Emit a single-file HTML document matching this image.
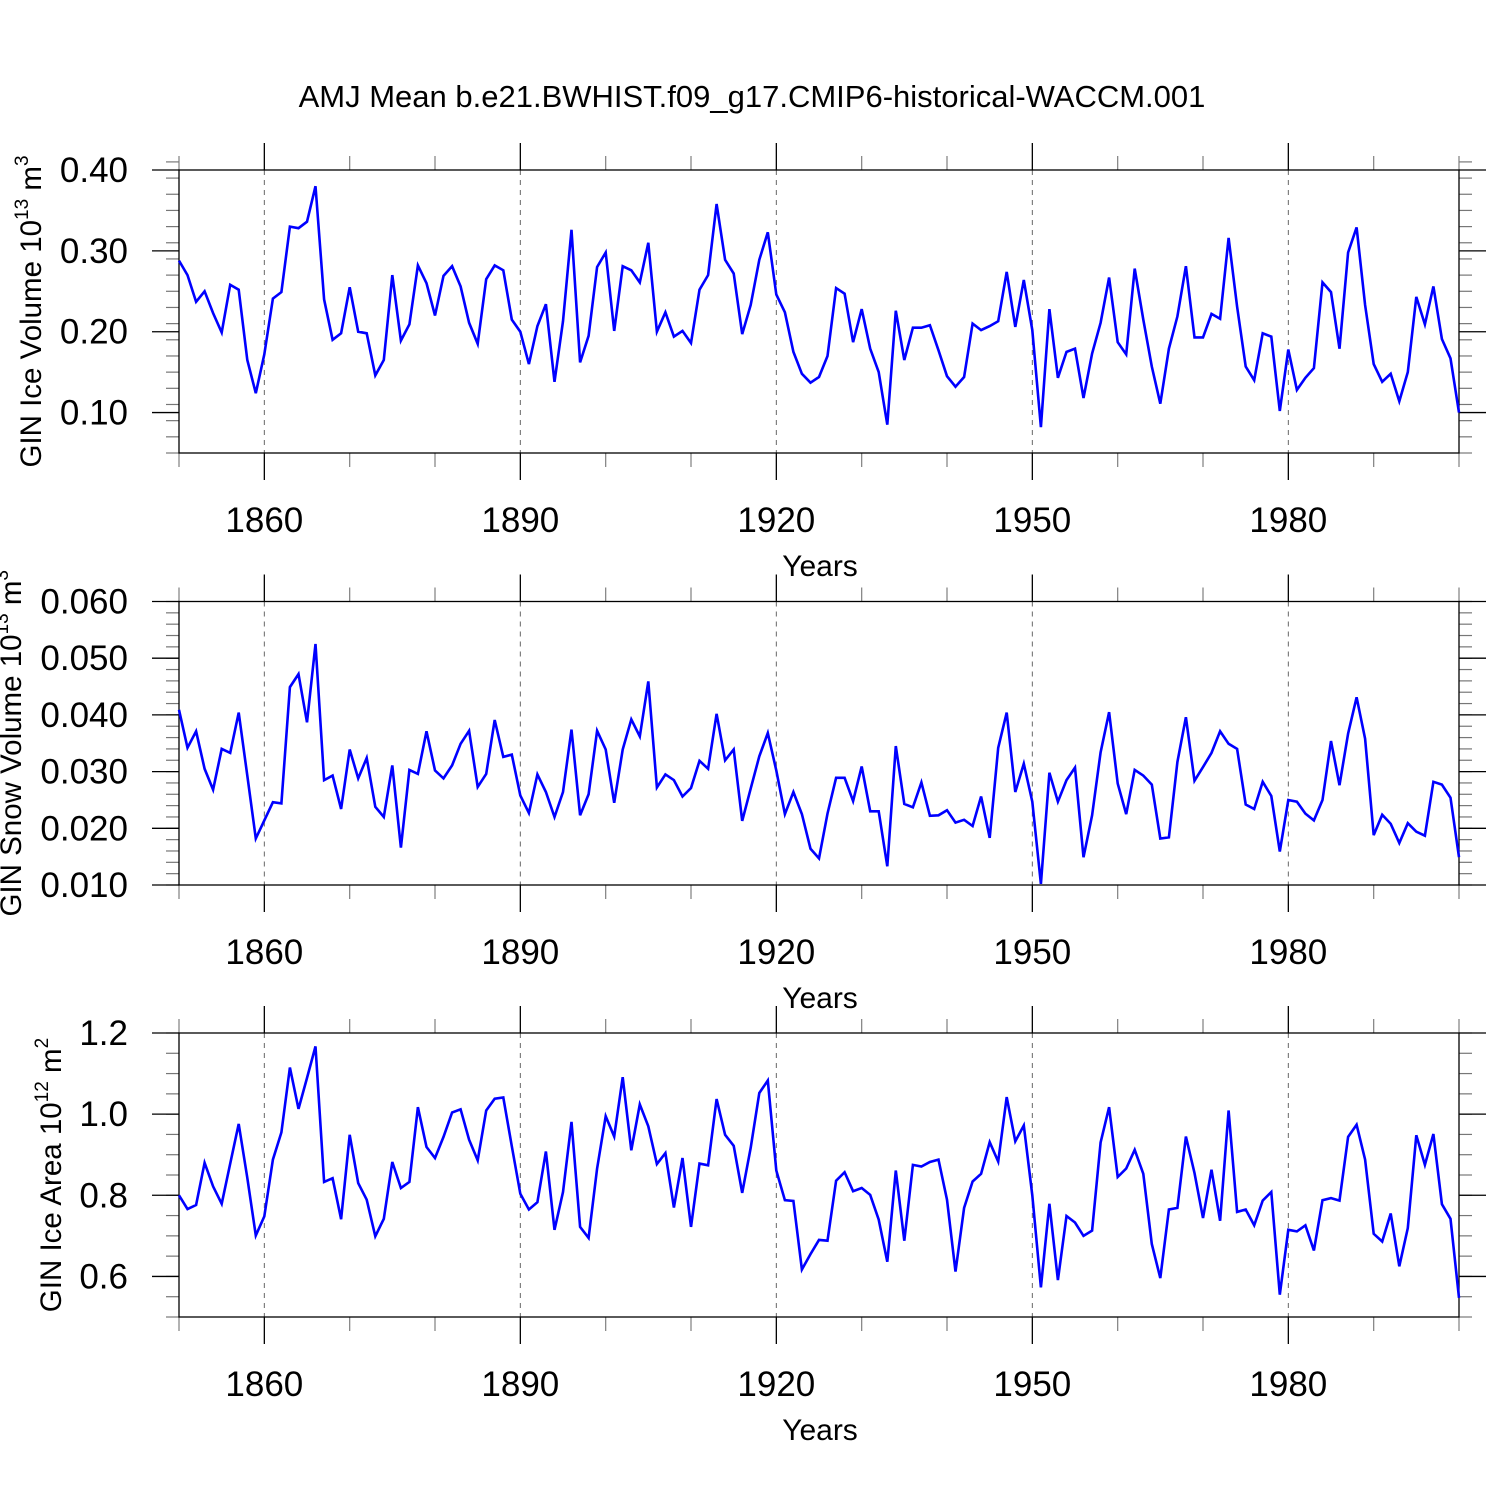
<!DOCTYPE html>
<html><head><meta charset="utf-8"><style>
html,body{margin:0;padding:0;background:#fff;width:1500px;height:1500px;overflow:hidden}
svg{display:block;font-family:"Liberation Sans",sans-serif}
</style></head><body>
<svg id="chart" width="1500" height="1500" viewBox="0 0 1500 1500" xmlns="http://www.w3.org/2000/svg">
<text x="752" y="107" font-size="31" text-anchor="middle">AMJ Mean b.e21.BWHIST.f09_g17.CMIP6-historical-WACCM.001</text>
</svg>
<script>
const startYear = 1850;
const iceVolume = [0.288,0.270,0.237,0.250,0.223,0.199,0.258,0.252,0.165,0.124,0.172,0.241,0.249,0.330,0.328,0.336,0.380,0.240,0.190,0.198,0.255,0.200,0.198,0.146,0.165,0.270,0.189,0.209,0.282,0.260,0.220,0.269,0.281,0.256,0.211,0.185,0.265,0.282,0.276,0.215,0.200,0.160,0.207,0.234,0.138,0.213,0.326,0.162,0.195,0.280,0.298,
0.201,0.281,0.276,0.261,0.310,0.200,0.224,0.194,0.201,0.186,0.252,0.270,0.358,0.289,0.272,0.197,0.233,0.289,0.323,0.246,0.224,0.175,0.148,0.137,0.144,0.170,0.254,0.247,0.187,0.228,0.179,0.150,0.085,0.226,0.165,0.205,0.205,0.208,0.177,0.145,0.132,0.144,0.210,0.202,0.207,0.213,0.274,0.206,0.264,0.202,
0.082,0.228,0.143,0.175,0.179,0.118,0.173,0.211,0.267,0.187,0.172,0.278,0.215,0.157,0.111,0.179,0.219,0.281,0.193,0.193,0.222,0.216,0.316,0.231,0.157,0.140,0.198,0.194,0.102,0.178,0.128,0.143,0.155,0.261,0.249,0.179,0.298,0.329,0.233,0.160,0.138,0.148,0.114,0.150,0.243,0.209,0.256,0.191,0.167,0.100];
const snowVolume = [0.0409,0.0342,0.0371,0.0305,0.0268,0.0340,0.0333,0.0404,0.0293,0.0182,0.0214,0.0246,0.0244,0.0449,0.0472,0.0387,0.0525,0.0285,0.0293,0.0234,0.0339,0.0288,0.0324,0.0238,0.0220,0.0311,0.0166,0.0303,0.0296,0.0371,0.0302,0.0288,0.0311,0.0349,0.0372,0.0273,0.0296,0.0391,0.0326,0.0330,0.0258,0.0227,0.0295,0.0264,0.0220,0.0264,0.0374,0.0223,0.0260,0.0372,0.0339,
0.0245,0.0339,0.0392,0.0362,0.0459,0.0272,0.0295,0.0285,0.0256,0.0271,0.0319,0.0305,0.0402,0.0320,0.0339,0.0213,0.0270,0.0327,0.0368,0.0302,0.0225,0.0264,0.0225,0.0164,0.0147,0.0226,0.0289,0.0289,0.0248,0.0309,0.0230,0.0230,0.0133,0.0345,0.0243,0.0237,0.0281,0.0222,0.0223,0.0232,0.0210,0.0215,0.0204,0.0256,0.0183,0.0342,0.0404,0.0264,0.0314,0.0247,
0.0102,0.0298,0.0247,0.0285,0.0307,0.0149,0.0223,0.0334,0.0405,0.0279,0.0225,0.0303,0.0293,0.0277,0.0182,0.0184,0.0317,0.0396,0.0284,0.0308,0.0333,0.0371,0.0349,0.0340,0.0242,0.0234,0.0282,0.0257,0.0159,0.0250,0.0247,0.0226,0.0214,0.0250,0.0354,0.0276,0.0367,0.0431,0.0358,0.0188,0.0224,0.0208,0.0174,0.0209,0.0194,0.0187,0.0282,0.0277,0.0254,0.0149];
const iceArea = [0.800,0.766,0.776,0.880,0.822,0.779,0.878,0.976,0.843,0.701,0.748,0.888,0.955,1.115,1.013,1.089,1.167,0.833,0.842,0.741,0.949,0.830,0.789,0.699,0.742,0.882,0.818,0.833,1.017,0.919,0.892,0.944,1.004,1.012,0.937,0.886,1.009,1.038,1.041,0.921,0.804,0.765,0.783,0.908,0.715,0.808,0.981,0.722,0.695,0.866,0.995,
0.945,1.091,0.911,1.024,0.970,0.877,0.904,0.770,0.892,0.722,0.878,0.874,1.037,0.949,0.922,0.806,0.917,1.052,1.083,0.861,0.788,0.786,0.617,0.655,0.690,0.688,0.836,0.857,0.810,0.818,0.801,0.740,0.636,0.861,0.688,0.875,0.871,0.882,0.888,0.789,0.612,0.769,0.834,0.853,0.931,0.883,1.042,0.933,0.972,0.800,
0.573,0.779,0.591,0.749,0.733,0.700,0.713,0.930,1.017,0.845,0.866,0.912,0.853,0.680,0.596,0.765,0.769,0.945,0.855,0.744,0.863,0.737,1.009,0.759,0.765,0.726,0.787,0.808,0.555,0.715,0.711,0.726,0.664,0.788,0.793,0.787,0.944,0.974,0.888,0.705,0.686,0.755,0.625,0.719,0.948,0.875,0.951,0.778,0.742,0.547];
const xLabelYears = [1860,1890,1920,1950,1980];
const ticks1 = ["0.10","0.20","0.30","0.40"];
const ticks2 = ["0.010","0.020","0.030","0.040","0.050","0.060"];
const ticks3 = ["0.6","0.8","1.0","1.2"];

const NS = "http://www.w3.org/2000/svg";
const svg = document.getElementById('chart');
const X0 = 179, X1 = 1459, Y_START = 1850, Y_END = 2000;
function xScale(yr){ return X0 + (yr - Y_START) / (Y_END - Y_START) * (X1 - X0); }
function mk(tag, attrs, parent){ const e = document.createElementNS(NS, tag); for (const k in attrs) e.setAttribute(k, attrs[k]); (parent||svg).appendChild(e); return e; }

const panels = [
  {name:'ice-volume', top:170, bot:453, min:0.05, max:0.40, minorStep:0.02, data:iceVolume, ticks:ticks1, title:['GIN Ice Volume 10','13',' m','3'], tx:41},
  {name:'snow-volume', top:601.5, bot:885, min:0.01, max:0.06, minorStep:0.002, data:snowVolume, ticks:ticks2, title:['GIN Snow Volume 10','13',' m','3'], tx:21},
  {name:'ice-area', top:1033, bot:1317, min:0.5, max:1.2, minorStep:0.05, data:iceArea, ticks:ticks3, title:['GIN Ice Area 10','12',' m','2'], tx:61}
];

panels.forEach(p => {
  const g = mk('g', {});
  
  
  const yScale = v => p.bot - (v - p.min) / (p.max - p.min) * (p.bot - p.top);
  xLabelYears.forEach(yr => {
    const l = mk('line', {x1:xScale(yr), x2:xScale(yr), y1:p.top, y2:p.bot, stroke:'#666', 'stroke-width':1, 'stroke-dasharray':'5,5'}, g);
    
    
  });
  for (let yr = 1850; yr <= 2000; yr += 10) {
    const major = xLabelYears.includes(yr);
    const len = major ? 27 : 14;
    mk('line', {x1:xScale(yr), x2:xScale(yr), y1:p.top, y2:p.top - len, stroke: major ? '#000' : '#888', 'stroke-width':1.3}, g);
    mk('line', {x1:xScale(yr), x2:xScale(yr), y1:p.bot, y2:p.bot + len, stroke: major ? '#000' : '#888', 'stroke-width':1.3}, g);
  }
  const nMinor = Math.round((p.max - p.min) / p.minorStep);
  for (let k = 0; k <= nMinor; k++) {
    const v = p.min + k * p.minorStep;
    const y = yScale(v);
    mk('line', {x1:X0, x2:X0 - 13, y1:y, y2:y, stroke:'#777', 'stroke-width':1.2}, g);
    mk('line', {x1:X1, x2:X1 + 13, y1:y, y2:y, stroke:'#777', 'stroke-width':1.2}, g);
  }
  p.ticks.forEach(t => {
    const y = yScale(parseFloat(t));
    mk('line', {x1:X0, x2:X0 - 27, y1:y, y2:y, stroke:'#000', 'stroke-width':1.3}, g);
    mk('line', {x1:X1, x2:X1 + 27, y1:y, y2:y, stroke:'#000', 'stroke-width':1.3}, g);
    const tx = mk('text', {x:128, y:y + 12, 'font-size':35, 'text-anchor':'end'}, g);
    tx.textContent = t;
    
    
  });
  const fr = mk('rect', {x:X0, y:p.top, width:X1 - X0, height:p.bot - p.top, fill:'none', stroke:'#000', 'stroke-width':1.3}, g);
  
  
  const pts = p.data.map((v, i) => xScale(startYear + i).toFixed(1) + ',' + yScale(v).toFixed(1)).join(' ');
  const line = mk('polyline', {points:pts, fill:'none', stroke:'#0000ff', 'stroke-width':2.6, 'stroke-linejoin':'miter'}, g);
  
  
  xLabelYears.forEach(yr => {
    const t = mk('text', {x:xScale(yr), y:p.bot + 79, 'font-size':35, 'text-anchor':'middle'}, g);
    t.textContent = yr;
    
    
  });
  const xt = mk('text', {x:820, y:p.bot + 123, 'font-size':30, 'text-anchor':'middle'}, g);
  xt.textContent = 'Years';
  
  
  const cy = (p.top + p.bot) / 2;
  const yt = mk('text', {x:0, y:0, 'font-size':29.5, 'text-anchor':'middle', transform:'translate(' + p.tx + ',' + cy + ') rotate(-90)'}, g);
  
  
  const s1 = mk('tspan', {}, yt); s1.textContent = p.title[0];
  const s2 = mk('tspan', {dy:-13, 'font-size':19}, yt); s2.textContent = p.title[1];
  const s3 = mk('tspan', {dy:13}, yt); s3.textContent = p.title[2];
  const s4 = mk('tspan', {dy:-13, 'font-size':19}, yt); s4.textContent = p.title[3];
});
</script>
</body></html>
